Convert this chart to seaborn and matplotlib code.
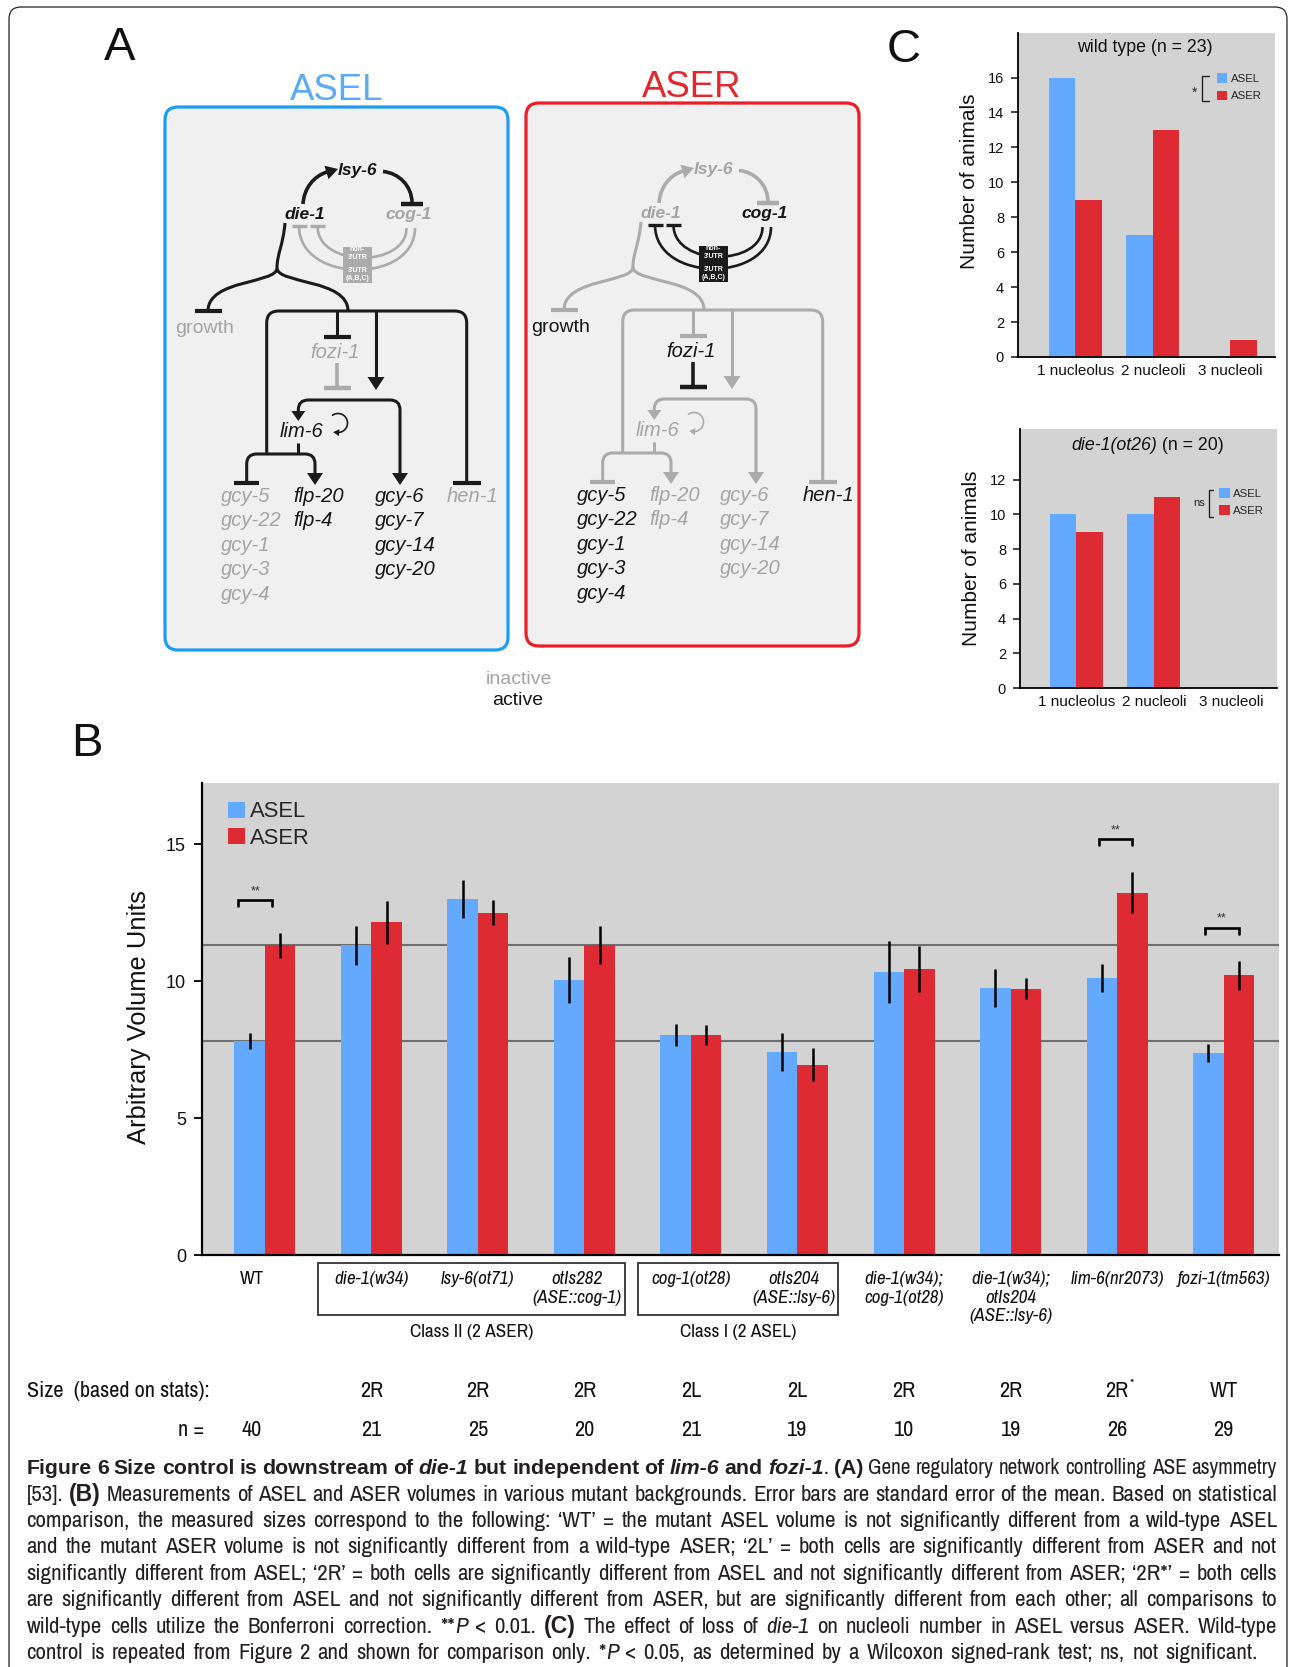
import os
import re
import numpy as np
import pandas as pd
import matplotlib
matplotlib.use("Agg")
import matplotlib.pyplot as plt
import seaborn as sns
from matplotlib import font_manager
from matplotlib.font_manager import FontProperties
from matplotlib.patches import FancyBboxPatch, Rectangle, Polygon, PathPatch, Patch
from matplotlib.path import Path
from matplotlib.colors import to_rgba
from matplotlib.transforms import blended_transform_factory, offset_copy

# ======================= DATA =======================
# Panel B: volumes (arbitrary units) and s.e.m.
genotypes = ["WT", "die-1(w34)", "lsy-6(ot71)", "otIs282\n(ASE::cog-1)", "cog-1(ot28)",
             "otIs204\n(ASE::lsy-6)", "die-1(w34);\ncog-1(ot28)",
             "die-1(w34);\notIs204\n(ASE::lsy-6)", "lim-6(nr2073)", "fozi-1(tm563)"]
asel_volume = [7.82, 11.30, 13.00, 10.05, 8.02, 7.40, 10.33, 9.75, 10.11, 7.37]
aser_volume = [11.30, 12.15, 12.50, 11.32, 8.02, 6.95, 10.44, 9.72, 13.23, 10.22]
asel_sem = [0.30, 0.70, 0.70, 0.84, 0.40, 0.70, 1.14, 0.68, 0.51, 0.33]
aser_sem = [0.47, 0.78, 0.45, 0.70, 0.37, 0.60, 0.83, 0.38, 0.76, 0.53]
wt_reference_levels = [11.30, 7.80]
significance = {"WT": "**", "lim-6(nr2073)": "**", "fozi-1(tm563)": "**"}
size_class = ["", "2R", "2R", "2R", "2L", "2L", "2R", "2R", "2R*", "WT"]
n_animals = [40, 21, 25, 20, 21, 19, 10, 19, 26, 29]
class_groups = [("Class II (2 ASER)", ["die-1(w34)", "lsy-6(ot71)", "otIs282\n(ASE::cog-1)"]),
                ("Class I (2 ASEL)", ["cog-1(ot28)", "otIs204\n(ASE::lsy-6)"])]

# Panel C: number of animals per nucleoli count
nucleoli_cats = ["1 nucleolus", "2 nucleoli", "3 nucleoli"]
wt_asel_counts = [16, 7, 0]
wt_aser_counts = [9, 13, 1]
die1_asel_counts = [10, 10, 0]
die1_aser_counts = [9, 11, 0]

caption_lines = [
    "{b:Figure 6 Size control is downstream of} {bi:die-1} {b:but independent of} {bi:lim-6} {b:and} {bi:fozi-1}. {b:(A)} Gene regulatory network controlling ASE asymmetry",
    "[53]. {b:(B)} Measurements of ASEL and ASER volumes in various mutant backgrounds. Error bars are standard error of the mean. Based on statistical",
    "comparison, the measured sizes correspond to the following: \u2018WT\u2019 = the mutant ASEL volume is not significantly different from a wild-type ASEL",
    "and the mutant ASER volume is not significantly different from a wild-type ASER; \u20182L\u2019 = both cells are significantly different from ASER and not",
    "significantly different from ASEL; \u20182R\u2019 = both cells are significantly different from ASEL and not significantly different from ASER; \u20182R*\u2019 = both cells",
    "are significantly different from ASEL and not significantly different from ASER, but are significantly different from each other; all comparisons to",
    "wild-type cells utilize the Bonferroni correction. **{i:P} < 0.01. {b:(C)} The effect of loss of {i:die-1} on nucleoli number in ASEL versus ASER. Wild-type",
    "control is repeated from Figure 2 and shown for comparison only. *{i:P} < 0.05, as determined by a Wilcoxon signed-rank test; ns, not significant.",
]

# ======================= STYLE =======================
BLUE = "#63A9FF"
RED = "#DE2B33"
PANEL_GRAY = "#D3D3D3"
K = "#1b1b1b"
G = "#ababab"
KT = "#151515"
GT = "#a4a4a4"

W, H, DPI = 1290, 1667, 100
sns.set_theme(style="white")
avail = {f.name for f in font_manager.fontManager.ttflist}
SANS = "Liberation Sans" if "Liberation Sans" in avail else "DejaVu Sans"
plt.rcParams["font.family"] = [SANS, "DejaVu Sans"]


def wnum(w):
    if isinstance(w, (int, float)):
        return int(w)
    return int(font_manager.weight_dict.get(str(w).lower(), 400))


def find_narrow():
    fams = {}
    for f in font_manager.fontManager.ttflist:
        base = os.path.basename(f.fname).lower()
        nm = f.name.lower()
        st = str(f.stretch).lower()
        if not base.endswith((".ttf", ".otf")):
            continue
        if "narrow" in nm or "narrow" in base:
            rank = 0
        elif ("condensed" in base or "condensed" in nm) and not any(k in base for k in ("extra", "ultra", "semi")):
            rank = 1
        elif "semicondensed" in base or "semi" in st:
            rank = 2
        elif st == "condensed":
            rank = 1
        else:
            continue
        w = wnum(f.weight)
        if 350 <= w <= 500:
            b = False
        elif 600 <= w <= 800:
            b = True
        else:
            continue
        it = f.style in ("italic", "oblique")
        d = fams.setdefault((rank, f.name), {})
        sc = abs(w - (700 if b else 400))
        if (b, it) not in d or sc < d[(b, it)][1]:
            d[(b, it)] = (f.fname, sc)
    pref = ["Liberation Sans Narrow", "Arial Narrow", "Roboto Condensed", "Noto Sans",
            "Open Sans Condensed", "Open Sans", "DejaVu Sans"]
    best = None
    for key, d in fams.items():
        if (False, False) not in d:
            continue
        score = (key[0], pref.index(key[1]) if key[1] in pref else 50)
        if best is None or score < best[0]:
            best = (score, d)
    return {k: v[0] for k, v in best[1].items()} if best else None


NARROW = find_narrow()


def SFP(bold=False, italic=False, size=12):
    return FontProperties(family=SANS, weight="bold" if bold else "normal",
                          style="italic" if italic else "normal", size=size)


def NFP(bold=False, italic=False, size=12):
    if NARROW:
        path = NARROW.get((bold, italic))
        if path is None and bold:
            path = NARROW.get((True, False))
            if path is None:
                return SFP(bold, italic, size)
        if path is None:
            path = NARROW.get((False, italic)) or NARROW[(False, False)]
        return FontProperties(fname=path, size=size)
    return SFP(bold, italic, size)


fig = plt.figure(figsize=(W / DPI, H / DPI), dpi=DPI)
fig.patch.set_facecolor("white")
R = fig.canvas.get_renderer()


def text_w(s, fp):
    w, h, d = R.get_text_width_height_descent(s, fp, ismath=False)
    return w


def fit(s, fp, target):
    f2 = fp.copy()
    f2.set_size(10)
    return 10.0 * target / text_w(s, f2)


def add_ax(l, t, r, b, **kw):
    return fig.add_axes([l / W, 1 - b / H, (r - l) / W, (b - t) / H], **kw)


# overlay in pixel coordinates (y down)
ov = add_ax(0, 0, W, H, zorder=10)
ov.set_xlim(0, W)
ov.set_ylim(H, 0)
ov.axis("off")
ov.patch.set_alpha(0)

# outer frame
ov.add_patch(FancyBboxPatch((9, 7), 1278, 1720, boxstyle="round,pad=0,rounding_size=12",
                            fc="none", ec="#222222", lw=0.9, zorder=0))

# ======================= PANEL B =======================
axB = add_ax(202, 783, 1279, 1255)
dfB = pd.DataFrame({"genotype": genotypes * 2,
                    "cell": ["ASEL"] * len(genotypes) + ["ASER"] * len(genotypes),
                    "volume": asel_volume + aser_volume})
sns.barplot(data=dfB, x="genotype", y="volume", hue="cell", order=genotypes,
            hue_order=["ASEL", "ASER"], palette={"ASEL": BLUE, "ASER": RED},
            width=0.573, gap=0, saturation=1, errorbar=None, legend=False,
            linewidth=0, ax=axB, zorder=2)
sem = {"ASEL": asel_sem, "ASER": aser_sem}
ex, ey, ee = [], [], []
for p in axB.patches:
    cx = p.get_x() + p.get_width() / 2
    idx = int(round(cx))
    cell = "ASEL" if np.allclose(p.get_facecolor()[:3], to_rgba(BLUE)[:3], atol=0.03) else "ASER"
    ex.append(cx)
    ey.append(p.get_height())
    ee.append(sem[cell][idx])
axB.errorbar(ex, ey, yerr=ee, fmt="none", ecolor="black", elinewidth=1.8, capsize=0, zorder=4)
for v in wt_reference_levels:
    axB.axhline(v, color="#707070", lw=1.5, zorder=1)

bracket_span = {"WT": (-0.25, 0.07), "lim-6(nr2073)": (-0.17, 0.14), "fozi-1(tm563)": (-0.17, 0.14)}
for g, lab in significance.items():
    i = genotypes.index(g)
    top = max(asel_volume[i] + asel_sem[i], aser_volume[i] + aser_sem[i]) + 1.18
    x0, x1 = i + bracket_span[g][0], i + bracket_span[g][1]
    axB.plot([x0, x0, x1, x1], [top - 0.22, top, top, top - 0.22], color="black", lw=1.9,
             solid_joinstyle="miter", zorder=5)
    axB.text((x0 + x1) / 2, top + 0.12, lab, ha="center", va="bottom", fontsize=9, color="#333333")

axB.set_facecolor(PANEL_GRAY)
axB.set_xlim(-0.59, 9.52)
axB.set_ylim(0, 17.23)
axB.set_xticks([])
axB.set_xlabel("")
axB.set_yticks([0, 5, 10, 15])
axB.set_yticklabels(["0", "5", "10", "15"], fontproperties=SFP(size=13))
axB.tick_params(axis="y", length=6, width=1.4, direction="out", pad=5.5, colors="#111111", left=True)
for s in ["top", "right"]:
    axB.spines[s].set_visible(False)
for s in ["left", "bottom"]:
    axB.spines[s].set_color("black")
    axB.spines[s].set_linewidth(1.6)
axB.set_ylabel("Arbitrary Volume Units", fontproperties=SFP(size=18.4), va="center", color="#111111")
axB.yaxis.set_label_coords(-0.0585, 0.505)
axB.legend(handles=[Patch(facecolor=BLUE, edgecolor="none", label="ASEL"),
                    Patch(facecolor=RED, edgecolor="none", label="ASER")],
           loc="upper left", bbox_to_anchor=(0.024, 0.961), frameon=False,
           prop=SFP(size=15.8), handlelength=0.78, handleheight=0.78, handletextpad=0.25,
           labelspacing=0.24, borderpad=0, borderaxespad=0)

# labels under panel B
tB = blended_transform_factory(axB.transData, ov.transData)
col_shift = {0: -0.12}
label_shift = {0: -0.12, 3: -0.07, 5: -0.03}
size_x = min(15.0, fit("lim-6(nr2073)", NFP(False, True, 10), 93.6))
for i, g in enumerate(genotypes):
    for k, line in enumerate(g.split("\n")):
        ov.text(i + label_shift.get(i, 0), 1284 + 18.6 * k, line, transform=tB,
                fontproperties=NFP(False, g != "WT", size_x),
                ha="center", va="baseline", color="#111111")
size_cls = min(15.0, fit("Class II (2 ASER)", NFP(size=10), 123))
for label, members in class_groups:
    idx = [genotypes.index(m) for m in members]
    x0, x1 = min(idx) - 0.50, max(idx) + 0.38
    ov.add_patch(Rectangle((x0, 1263), x1 - x0, 52, transform=tB, fill=False, ec="#333333", lw=1.3))
    ov.text((x0 + x1) / 2, 1337, label, transform=tB, fontproperties=NFP(size=size_cls),
            ha="center", va="baseline", color="#111111")

size_row = min(16.0, fit("Size  (based on stats):", NFP(size=10), 183))
ov.text(26.6, 1397, "Size  (based on stats):", fontproperties=NFP(size=size_row), ha="left",
        va="baseline", color="#111111")
ov.text(204, 1436, "n =", fontproperties=NFP(size=size_row), ha="right", va="baseline", color="#111111")
for i, (sc, n) in enumerate(zip(size_class, n_animals)):
    xi = i + col_shift.get(i, 0)
    base = sc.rstrip("*")
    if base:
        ov.text(xi, 1397, base, transform=tB, fontproperties=NFP(size=size_row), ha="center",
                va="baseline", color="#111111")
    if sc.endswith("*"):
        hw = text_w(base, NFP(size=size_row)) / 2
        ov.text(xi, 1397, "*", transform=offset_copy(tB, fig=fig, x=hw + 1, y=9, units="dots"),
                fontproperties=NFP(size=size_row * 0.6), ha="left", va="baseline", color="#111111")
    ov.text(xi, 1436, str(n), transform=tB, fontproperties=NFP(size=size_row), ha="center",
            va="baseline", color="#111111")


# ======================= PANEL C =======================
def nucleoli_panel(l, t, r, b, asel, aser, ymax, yticks, xlim, title_parts, title_xy,
                   mark, mark_xy, brk, leg_xy):
    ax = add_ax(l, t, r, b)
    df = pd.DataFrame({"nucleoli": nucleoli_cats * 2, "cell": ["ASEL"] * 3 + ["ASER"] * 3,
                       "count": asel + aser})
    sns.barplot(data=df, x="nucleoli", y="count", hue="cell", order=nucleoli_cats,
                hue_order=["ASEL", "ASER"], palette={"ASEL": BLUE, "ASER": RED},
                width=0.685, gap=0, saturation=1, errorbar=None, legend=False, linewidth=0, ax=ax)
    ax.set_facecolor(PANEL_GRAY)
    ax.set_xlim(*xlim)
    ax.set_ylim(0, ymax)
    ax.set_yticks(yticks)
    ax.set_yticklabels([str(v) for v in yticks], fontproperties=SFP(size=10.5))
    ax.set_xticks(range(3))
    ax.set_xticklabels(nucleoli_cats, fontproperties=SFP(size=11))
    ax.tick_params(axis="y", length=5, width=1.1, direction="out", pad=5, colors="#111111", left=True)
    ax.tick_params(axis="x", length=0, pad=5, colors="#111111")
    ax.set_xlabel("")
    ax.set_ylabel("Number of animals", fontproperties=SFP(size=15), va="center", color="#111111")
    for s in ["top", "right"]:
        ax.spines[s].set_visible(False)
    for s in ["left", "bottom"]:
        ax.spines[s].set_color("black")
        ax.spines[s].set_linewidth(1.3)
    # title (possibly mixed italic)
    fps = [SFP(italic=it, size=12.8) for _, it in title_parts]
    widths = [text_w(s, fp) for (s, _), fp in zip(title_parts, fps)]
    total = sum(widths)
    xoff = -total / 2
    for (s, it), fp, wdt in zip(title_parts, fps, widths):
        ax.text(title_xy[0], title_xy[1], s, fontproperties=fp, ha="left", va="center",
                transform=offset_copy(ax.transAxes, fig=fig, x=xoff, y=0, units="dots"), color="#111111")
        xoff += wdt
    ax.legend(handles=[Patch(facecolor=BLUE, edgecolor="none", label="ASEL"),
                       Patch(facecolor=RED, edgecolor="none", label="ASER")],
              loc="upper left", bbox_to_anchor=leg_xy, frameon=False, prop=SFP(size=8.2),
              handlelength=0.95, handleheight=0.95, handletextpad=0.3, labelspacing=0.55,
              borderpad=0, borderaxespad=0)
    ax.text(mark_xy[0], mark_xy[1], mark, transform=ax.transAxes, ha="center", va="center",
            fontsize=8 if mark == "ns" else 10, color="#222222")
    bx0, bx1, by0, by1 = brk
    ax.plot([bx1, bx0, bx0, bx1], [by0, by0, by1, by1], transform=ax.transAxes, color="#222222",
            lw=1.0, solid_joinstyle="miter")
    return ax


axC1 = nucleoli_panel(1018, 33, 1275, 357, wt_asel_counts, wt_aser_counts, 18.55,
                      list(range(0, 17, 2)), (-0.739, 2.574),
                      [("wild type (n = 23)", False)], (0.494, 0.955),
                      "*", (0.686, 0.815), (0.715, 0.742, 0.866, 0.790), (0.773, 0.875))
axC1.yaxis.set_label_coords(-0.187, 0.543)
axC2 = nucleoli_panel(1020, 428.6, 1277, 688, die1_asel_counts, die1_aser_counts, 14.93,
                      list(range(0, 13, 2)), (-0.727, 2.59),
                      [("die-1(ot26)", True), (" (n = 20)", False)], (0.498, 0.934),
                      "ns", (0.699, 0.713), (0.736, 0.752, 0.763, 0.659), (0.774, 0.770))
axC2.yaxis.set_label_coords(-0.19, 0.501)


# ======================= PANEL A (network diagram) =======================
LW = 2.2


def pathline(pts, codes, color, lw=LW, z=3):
    ov.add_patch(PathPatch(Path(pts, codes), fc="none", ec=color, lw=lw, capstyle="butt",
                           joinstyle="round", zorder=z))


def cubic(pts, color, lw=LW):
    pathline(pts, [Path.MOVETO, Path.CURVE4, Path.CURVE4, Path.CURVE4], color, lw)


def seg(p0, p1, color, lw=LW):
    pathline([p0, p1], [Path.MOVETO, Path.LINETO], color, lw)


def rpoly(pts, color, r=11, lw=LW):
    verts, codes = [pts[0]], [Path.MOVETO]
    for i in range(1, len(pts) - 1):
        p0, p1, p2 = (np.array(pts[j], float) for j in (i - 1, i, i + 1))
        d0 = (p0 - p1) / np.linalg.norm(p0 - p1)
        d2 = (p2 - p1) / np.linalg.norm(p2 - p1)
        verts += [tuple(p1 + d0 * r), tuple(p1), tuple(p1 + d2 * r)]
        codes += [Path.LINETO, Path.CURVE3, Path.CURVE3]
    verts.append(pts[-1])
    codes.append(Path.LINETO)
    pathline(verts, codes, color, lw)


def head(tip, d, color, L=13, Wd=15):
    d = np.array(d, float)
    d /= np.linalg.norm(d)
    n = np.array([-d[1], d[0]])
    tip = np.array(tip, float)
    b = tip - d * L
    ov.add_patch(Polygon([tip, b + n * Wd / 2, b - n * Wd / 2], closed=True, fc=color, ec="none", zorder=4))


def tbar(c, w, color, lw=3.0):
    x, y = c
    seg((x - w / 2, y), (x + w / 2, y), color, lw)


ASEL_ON = {"lsy6": 1, "die1": 1, "cog1": 0, "die1_lsy6": 1, "lsy6_cog1": 1, "cog1_die1": 0,
           "die1_out": 1, "growth": 0, "fozi1": 0, "fozi1_lim6": 0, "lim6": 1, "lim6_loop": 1,
           "lim6_out": 1, "gcy5": 0, "flp": 1, "gcy6": 1, "hen1": 0}
ASER_ON = {k: 1 - v for k, v in ASEL_ON.items()}


def draw_network(dx, dy, state, gcy6_left):
    col = {k: (K if v else G) for k, v in state.items()}
    tcol = {k: (KT if v else GT) for k, v in state.items()}

    def P(x, y):
        return (x + dx, y + dy)

    # die-1 -> lsy-6
    c = col["die1_lsy6"]
    cubic([P(303, 204), P(304, 188), P(314, 176), P(327, 172)], c, lw=2.6)
    head(P(338, 169), (1, -0.3), c, L=12, Wd=14)
    # lsy-6 -| cog-1
    c = col["lsy6_cog1"]
    cubic([P(383, 171.5), P(399, 173), P(412, 186), P(412, 203)], c, lw=2.6)
    tbar(P(412, 204), 22, c, lw=3.2)
    # cog-1 -| die-1 via 3'UTR
    c = col["cog1_die1"]
    cubic([P(299, 226), P(299, 284), P(415, 284), P(415, 228)], c, lw=1.9)
    cubic([P(317.5, 226), P(317.5, 268), P(406.5, 268), P(406.5, 228)], c, lw=1.9)
    tbar(P(299, 225.5), 15, c, lw=2.4)
    tbar(P(317.5, 225.5), 15, c, lw=2.4)
    bx, by = P(343.3, 246.5)
    ov.add_patch(Rectangle((bx, by), 28.4, 36.5, fc=c, ec="none", zorder=5))
    for yy, s in [(249.5, "non-"), (257.5, "3'UTR"), (270, "3'UTR"), (278.5, "(A,B,C)")]:
        ov.text(*P(357.5, yy), s, color="white", fontproperties=SFP(True, False, 5.0),
                ha="center", va="center", zorder=6)
    # die-1 outputs
    c = col["die1_out"]
    cubic([P(285, 223), P(283, 246), P(277, 254), P(277, 268)], c)
    cubic([P(277, 268), P(277, 284), P(208, 279), P(208, 311)], c)
    cubic([P(277, 268), P(277, 284), P(348, 279), P(348, 311)], c)
    tbar(P(208, 311), 27, c)
    rpoly([P(266.7, 454), P(266.7, 311), P(466.7, 311), P(466.7, 482)], c, r=12)
    tbar(P(466.7, 482.5), 28, c)
    seg(P(337, 311), P(337, 336), c)
    tbar(P(337, 336.5), 27, c)
    seg(P(376, 311), P(376, 380), c)
    head(P(376, 390), (0, 1), c, L=13, Wd=17)
    rpoly([P(298.3, 413), P(298.3, 400), P(400, 400), P(400, 474)], c, r=10)
    head(P(298.3, 421), (0, 1), c, L=10, Wd=14)
    head(P(400, 485), (0, 1), c, L=12, Wd=16)
    # fozi-1 -| lim-6
    c = col["fozi1_lim6"]
    seg(P(337, 363), P(337, 387), c, lw=2.6)
    tbar(P(337, 388), 27, c, lw=3.2)
    # lim-6 outputs
    c = col["lim6_out"]
    seg(P(298.3, 443), P(298.3, 454), c)
    rpoly([P(246.7, 482), P(246.7, 454), P(315, 454), P(315, 473)], c, r=10)
    tbar(P(246.7, 482.5), 25, c)
    head(P(315, 485), (0, 1), c, L=12, Wd=16)
    # lim-6 autoregulation loop
    c = col["lim6_loop"]
    cx, cy = P(338, 423)
    r = 9.5
    t = np.radians(np.linspace(125, -95, 60))
    xs = cx + r * np.cos(t)
    ys = cy - r * np.sin(t)
    ov.plot(xs, ys, color=c, lw=1.2, zorder=3)
    dvec = np.array([np.sin(t[-1]), np.cos(t[-1])])
    head((xs[-1] + dvec[0] * 4, ys[-1] + dvec[1] * 4), dvec, c, L=6, Wd=7)
    # labels
    bi = SFP(True, True, 12.5)
    it = SFP(False, True, 14.5)
    rg = SFP(False, False, 14)
    ov.text(*P(357, 175), "lsy-6", color=tcol["lsy6"], fontproperties=bi, ha="center", va="baseline")
    ov.text(*P(305, 219), "die-1", color=tcol["die1"], fontproperties=bi, ha="center", va="baseline")
    ov.text(*P(409, 219), "cog-1", color=tcol["cog1"], fontproperties=bi, ha="center", va="baseline")
    ov.text(*P(205, 333), "growth", color=tcol["growth"], fontproperties=rg, ha="center", va="baseline")
    ov.text(*P(335, 358), "fozi-1", color=tcol["fozi1"], fontproperties=it, ha="center", va="baseline")
    ov.text(*P(301.7, 437), "lim-6", color=tcol["lim6"], fontproperties=it, ha="center", va="baseline")
    for k, s in enumerate(["gcy-5", "gcy-22", "gcy-1", "gcy-3", "gcy-4"]):
        ov.text(*P(221, 502 + 24.45 * k), s, color=tcol["gcy5"], fontproperties=it, ha="left", va="baseline")
    for k, s in enumerate(["flp-20", "flp-4"]):
        ov.text(*P(293.5, 502 + 24.45 * k), s, color=tcol["flp"], fontproperties=it, ha="left", va="baseline")
    for k, s in enumerate(["gcy-6", "gcy-7", "gcy-14", "gcy-20"]):
        ov.text(gcy6_left, 502 + dy + 24.45 * k, s, color=tcol["gcy6"], fontproperties=it, ha="left",
                va="baseline")
    ov.text(*P(446.7, 502), "hen-1", color=tcol["hen1"], fontproperties=it, ha="left", va="baseline")


# cell boxes
ov.add_patch(FancyBboxPatch((165, 107), 343, 543, boxstyle="round,pad=0,rounding_size=13",
                            fc="#F0F0F0", ec="#1E9CF2", lw=2.3, zorder=1))
ov.add_patch(FancyBboxPatch((526, 103), 333, 543, boxstyle="round,pad=0,rounding_size=13",
                            fc="#F0F0F0", ec="#EE1C25", lw=2.3, zorder=1))
ov.text(337, 100, "ASEL", color="#5CAAF6", fontproperties=SFP(size=26.3), ha="center", va="baseline")
ov.text(692, 97, "ASER", color="#E4262D", fontproperties=SFP(size=26.3), ha="center", va="baseline")
draw_network(0, 0, ASEL_ON, 375.4)
draw_network(356, -1, ASER_ON, 720.0)
ov.text(519, 684, "inactive", color=GT, fontproperties=SFP(size=14), ha="center", va="baseline")
ov.text(518, 705, "active", color=KT, fontproperties=SFP(size=14), ha="center", va="baseline")

# panel letters
for s, x, y in [("A", 120, 59.5), ("B", 87, 756), ("C", 904, 62)]:
    ov.text(x, y, s, fontproperties=SFP(size=34), ha="center", va="baseline", color="#111111")

# ======================= CAPTION =======================
STY = {"r": (False, False), "b": (True, False), "i": (False, True), "bi": (True, True)}


def parse_words(line):
    runs, pos = [], 0
    for m in re.finditer(r"\{(bi|b|i):([^}]*)\}", line):
        if m.start() > pos:
            runs.append((line[pos:m.start()], "r"))
        runs.append((m.group(2), m.group(1)))
        pos = m.end()
    if pos < len(line):
        runs.append((line[pos:], "r"))
    words = [[]]
    for text, st in runs:
        for k, part in enumerate(text.split(" ")):
            if k > 0:
                words.append([])
            if part:
                words[-1].append((part, st))
    return [w for w in words if w]


def word_width(word, size):
    return sum(text_w(t, NFP(*STY[st], size=size)) for t, st in word)


X0 = 26.6
right_edges = [1277] * 7 + [1258]
parsed = [parse_words(l) for l in caption_lines]
space10 = text_w("x x", NFP(size=10)) - text_w("xx", NFP(size=10))
ratios = []
for words, x1 in zip(parsed, right_edges):
    nat = sum(word_width(w, 10) for w in words) + space10 * (len(words) - 1)
    ratios.append((x1 - X0) / nat)
cap_size = min(17.5, 10 * min(ratios[1:]) * 0.995)
for li, (words, x1) in enumerate(zip(parsed, right_edges)):
    sz = min(cap_size, 10 * ratios[li] * 0.995)
    widths = [word_width(w, sz) for w in words]
    gap = (x1 - X0 - sum(widths)) / (len(words) - 1)
    x = X0
    yb = 1474.2 + 26.43 * li
    for w, wd in zip(words, widths):
        xx = x
        for t, st in w:
            fp = NFP(*STY[st], size=sz)
            ov.text(xx, yb, t, fontproperties=fp, ha="left", va="baseline", color="#231F20")
            xx += text_w(t, fp)
        x += wd + gap

fig.savefig("out.png", dpi=DPI, facecolor="white")
